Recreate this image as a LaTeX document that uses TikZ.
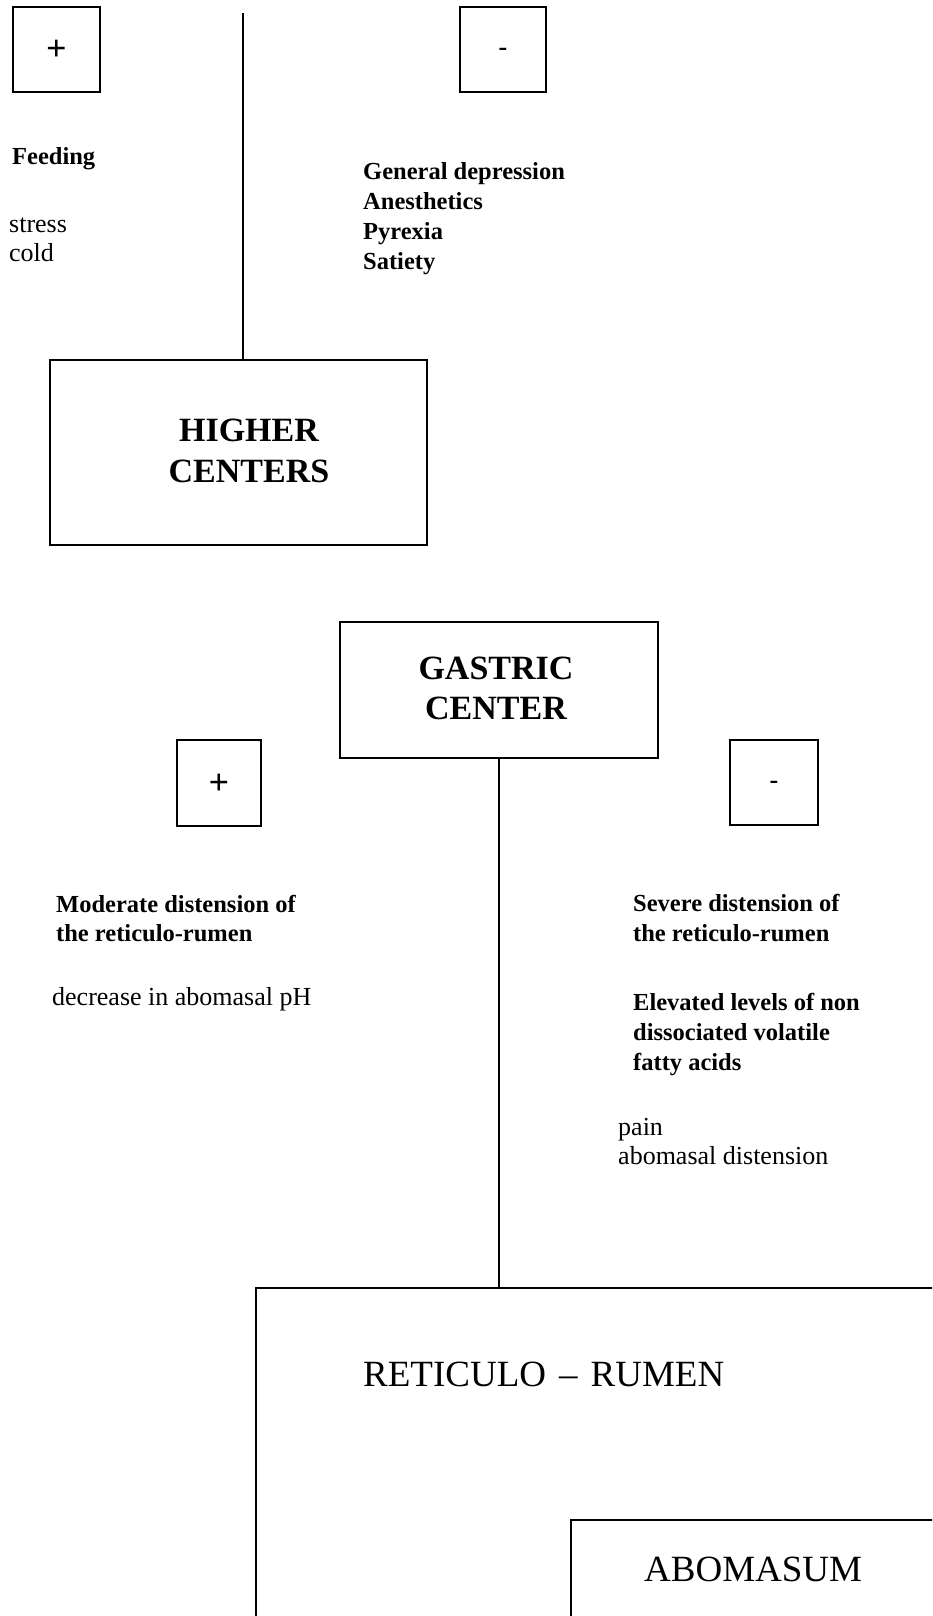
\documentclass[tikz,border=0pt]{standalone}
\usepackage{fontspec}
\setmainfont{Liberation Serif}
\begin{document}
\begin{tikzpicture}[x=1pt,y=-1pt,
  box/.style={draw,line width=1.5pt,inner sep=0pt},
  link/.style={line width=2pt},
  bl/.style={anchor=base west,inner sep=0pt,font=\fontsize{24.5}{29}\selectfont\bfseries},
  rl/.style={anchor=base west,inner sep=0pt,font=\fontsize{26}{29}\selectfont},
  big/.style={anchor=base,inner sep=0pt,font=\fontsize{34}{40}\selectfont\bfseries},
  organ/.style={anchor=base west,inner sep=0pt,font=\fontsize{37}{40}\selectfont},
  plussign/.style={anchor=base,inner sep=0pt,font=\fontsize{36}{36}\selectfont\bfseries},
  minussign/.style={anchor=base,inner sep=0pt,font=\fontsize{26}{26}\selectfont\bfseries}
]
\useasboundingbox (0,0) rectangle (932,1616);
\clip (0,0) rectangle (932,1616);
\fill[white] (0,0) rectangle (932,1616);

% sign boxes
\node[box,minimum width=87,minimum height=85] (p1) at (56.5,49.5) {};
\node[plussign] (p1s) at ([yshift=-11]p1.center) {+};
\node[box,minimum width=86,minimum height=85] (m1) at (503,49.5) {};
\node[minussign] (m1s) at ([yshift=-6]m1.center) {-};
\node[box,minimum width=84,minimum height=86] (p2) at (219,783) {};
\node[plussign] (p2s) at ([yshift=-11]p2.center) {+};
\node[box,minimum width=88,minimum height=85] (m2) at (774,782.5) {};
\node[minussign] (m2s) at ([yshift=-6]m2.center) {-};

% main boxes
\node[box,minimum width=377,minimum height=185] (hc) at (238.5,452.5) {};
\node[big] (hc1) at (249,441) {HIGHER};
\node[big] (hc2) at (249,482) {CENTERS};
\node[box,minimum width=318,minimum height=136] (gc) at (499,690) {};
\node[big] (gc1) at (496,679) {GASTRIC};
\node[big] (gc2) at (496,719) {CENTER};
\node[box,anchor=north west,minimum width=760,minimum height=420] (rr) at (255,1287) {};
\node[organ] (rrt) at (363,1386) {RETICULO\hspace{13pt}--\hspace{13pt}RUMEN};
\node[box,anchor=north west,minimum width=450,minimum height=200] (ab) at (570,1519) {};
\node[organ] (abt) at (644,1581) {ABOMASUM};

% connectors
\coordinate (top) at (243,13);
\draw[link] (top) -- (top |- hc.north);
\draw[link] (gc.south) -- (gc.south |- rr.north);

% texts top
\node[bl] (feed) at (12,165) {Feeding};
\node[rl] (stress) at (9,232) {stress};
\node[rl] (cold) at (9,261) {cold};
\node[bl] (gd) at (363,180) {General depression};
\node[bl] (an) at (363,210) {Anesthetics};
\node[bl] (py) at (363,239) {Pyrexia};
\node[bl] (sa) at (363,269) {Satiety};

% texts middle
\node[bl] (mod1) at (56,912) {Moderate distension of};
\node[bl] (mod2) at (56,941) {the reticulo-rumen};
\node[rl] (dec) at (52,1005) {decrease in abomasal pH};
\node[bl] (sev1) at (633,911) {Severe distension of};
\node[bl] (sev2) at (633,941) {the reticulo-rumen};
\node[bl] (el1) at (633,1010) {Elevated levels of non};
\node[bl] (el2) at (633,1040) {dissociated volatile};
\node[bl] (el3) at (633,1070) {fatty acids};
\node[rl] (pain) at (618,1135) {pain};
\node[rl] (abd) at (618,1164) {abomasal distension};
\end{tikzpicture}
\end{document}
